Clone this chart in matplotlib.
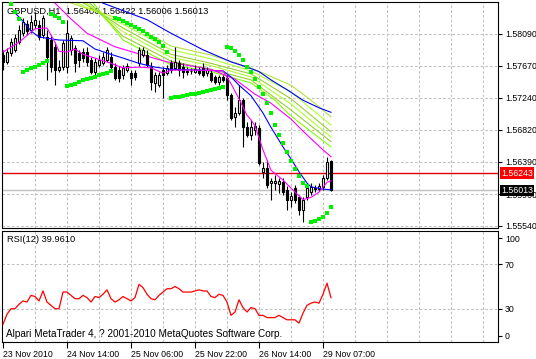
import numpy as np
import matplotlib
matplotlib.use("Agg")
import matplotlib.pyplot as plt

# GBPUSD H1 candles (bar 0 = 23 Nov 2010 22:00)
opens = [1.5781, 1.5772, 1.5784, 1.5788, 1.5798, 1.5810, 1.5822, 1.5814, 1.5821, 1.5821,
         1.5808, 1.5805, 1.5801, 1.5792, 1.5761, 1.5765, 1.5765, 1.5788, 1.5790, 1.5784,
         1.5785, 1.5785, 1.5775, 1.5759, 1.5768, 1.5770, 1.5775, 1.5778, 1.5765, 1.5761,
         1.5755, 1.5761, 1.5757, 1.5757, 1.5770, 1.5781, 1.5781, 1.5765, 1.5744, 1.5741,
         1.5761, 1.5757, 1.5770, 1.5764, 1.5770, 1.5765, 1.5760, 1.5760, 1.5759, 1.5761,
         1.5764, 1.5757, 1.5757, 1.5752, 1.5745, 1.5752, 1.5751, 1.5728, 1.5699, 1.5704,
         1.5721, 1.5685, 1.5675, 1.5682, 1.5684, 1.5626, 1.5631, 1.5611, 1.5611, 1.5610,
         1.5612, 1.5602, 1.5589, 1.5604, 1.5592, 1.5575, 1.5592, 1.5599, 1.5603, 1.5603,
         1.5606, 1.5618, 1.56406]
highs = [1.5788, 1.5790, 1.5804, 1.5809, 1.5821, 1.5830, 1.5828, 1.5834, 1.5838, 1.5828,
         1.5834, 1.5814, 1.5808, 1.5798, 1.5775, 1.5801, 1.5828, 1.5808, 1.5794, 1.5788,
         1.5790, 1.5792, 1.5778, 1.5777, 1.5781, 1.5785, 1.5792, 1.5785, 1.5770, 1.5767,
         1.5768, 1.5770, 1.5761, 1.5761, 1.5792, 1.5792, 1.5788, 1.5772, 1.5759, 1.5759,
         1.5765, 1.5768, 1.5775, 1.5792, 1.5775, 1.5770, 1.5765, 1.5764, 1.5768, 1.5765,
         1.5770, 1.5765, 1.5761, 1.5755, 1.5755, 1.5755, 1.5755, 1.5731, 1.5712, 1.5741,
         1.5724, 1.5692, 1.5695, 1.5692, 1.5688, 1.5639, 1.5642, 1.5618, 1.5622, 1.5618,
         1.5618, 1.5607, 1.5599, 1.5608, 1.5595, 1.5592, 1.5608, 1.5611, 1.5608, 1.5611,
         1.5622, 1.5646, 1.56422]
lows = [1.5761, 1.5769, 1.5780, 1.5785, 1.5796, 1.5806, 1.5808, 1.5810, 1.5817, 1.5801,
        1.5804, 1.5748, 1.5759, 1.5741, 1.5759, 1.5761, 1.5757, 1.5781, 1.5759, 1.5765,
        1.5772, 1.5767, 1.5756, 1.5755, 1.5765, 1.5768, 1.5772, 1.5761, 1.5748, 1.5745,
        1.5749, 1.5759, 1.5741, 1.5748, 1.5767, 1.5778, 1.5765, 1.5735, 1.5732, 1.5739,
        1.5724, 1.5755, 1.5757, 1.5761, 1.5753, 1.5751, 1.5755, 1.5756, 1.5757, 1.5755,
        1.5752, 1.5753, 1.5745, 1.5743, 1.5741, 1.5745, 1.5721, 1.5695, 1.5685, 1.5701,
        1.5659, 1.5672, 1.5668, 1.5675, 1.5635, 1.5618, 1.5604, 1.5589, 1.5602, 1.5598,
        1.5595, 1.5575, 1.5579, 1.5585, 1.5569, 1.5559, 1.5589, 1.5595, 1.5599, 1.5600,
        1.5602, 1.5615, 1.56006]
closes = [1.5772, 1.5785, 1.5798, 1.5804, 1.5814, 1.5825, 1.5813, 1.5825, 1.5828, 1.5805,
          1.5830, 1.5778, 1.5765, 1.5761, 1.5765, 1.5797, 1.5810, 1.5804, 1.5770, 1.5775,
          1.5777, 1.5772, 1.5759, 1.5772, 1.5775, 1.5778, 1.5788, 1.5765, 1.5751, 1.5751,
          1.5764, 1.5767, 1.5751, 1.5752, 1.5788, 1.5788, 1.5768, 1.5745, 1.5755, 1.5755,
          1.5755, 1.5764, 1.5761, 1.5772, 1.5761, 1.5759, 1.5759, 1.5760, 1.5762, 1.5757,
          1.5755, 1.5761, 1.5748, 1.5745, 1.5752, 1.5748, 1.5728, 1.5697, 1.5704, 1.5721,
          1.5685, 1.5675, 1.5685, 1.5687, 1.5638, 1.5631, 1.5608, 1.5614, 1.5614, 1.5614,
          1.5599, 1.5589, 1.5594, 1.5589, 1.5575, 1.5589, 1.5604, 1.5606, 1.5604, 1.5607,
          1.5618, 1.5639, 1.56013]

nan = np.nan
sar = [nan, nan, 1.5849, 1.5838, 1.5829,
       1.5759, 1.5761, 1.5764, 1.5765, 1.5768, 1.5770, 1.5773,
       1.5836, 1.5833, 1.5830, 1.5825,
       1.5740, 1.5741, 1.5743, 1.5745, 1.5748, 1.5749, 1.5751, 1.5752, 1.5755, 1.5756,
       1.5757, 1.5760,
       1.5830, 1.5829, 1.5826, 1.5824, 1.5821, 1.5818, 1.5816, 1.5813, 1.5809, 1.5805,
       1.5802, 1.5798, 1.5793, 1.5785,
       1.5724, 1.5725, 1.5725, 1.5727, 1.5728, 1.5729, 1.5729, 1.5731, 1.5732, 1.5733,
       1.5735, 1.5736, 1.5737, 1.5739,
       1.5792, 1.5790, 1.5786, 1.5781, 1.5775, 1.5765, 1.5759, 1.5749, 1.5739, 1.5729,
       1.5717, 1.5704, 1.5688, 1.5675, 1.5664, 1.5652, 1.5640, 1.5630, 1.5620, 1.5611,
       1.5607,
       1.5559, 1.5561, 1.5563, 1.5566, 1.5571, 1.5579]

rsi = [16, 25, 30, 30, 34, 37, 36, 42, 41, 37,
       46, 36, 33, 30, 30, 45, 45, 42, 39, 39,
       42, 40, 36, 41, 40, 43, 47, 39, 36, 38,
       41, 39, 37, 40, 52, 49, 43, 39, 38, 42,
       45, 48, 48, 50, 48, 45, 45, 45, 46, 47,
       46, 46, 41, 40, 43, 42, 36, 24, 27, 38,
       31, 27, 31, 30, 24, 24, 22, 22, 22, 24,
       22, 20, 20, 20, 17, 26, 33, 35, 36, 35,
       43, 53, 39.961]

# moving averages, read at a few bars each
blue_fast_idx = [3, 5, 7, 9, 14, 20, 23, 27, 30, 34, 38, 42, 49, 55, 57, 59, 62, 65, 67, 70, 72, 74, 76, 77, 80, 82]
blue_fast = [1.5837, 1.5826, 1.5813, 1.5805, 1.5801, 1.5800, 1.5789, 1.5782, 1.5777, 1.5770,
             1.5765, 1.5762, 1.5761, 1.5760, 1.5752, 1.5741, 1.5727, 1.5704, 1.5685, 1.5659,
             1.5643, 1.5626, 1.5611, 1.5606, 1.5603, 1.5602]
blue_slow_idx = [24, 25, 31, 36, 42, 50, 57, 61, 64, 67, 71, 75, 79, 82]
blue_slow = [1.5854, 1.5850, 1.5838, 1.5828, 1.5810, 1.5788, 1.5772, 1.5765, 1.5759, 1.5748,
             1.5735, 1.5721, 1.5711, 1.5705]
magenta_fast_idx = [0, 4, 8, 11, 13, 14, 16, 18, 20, 23, 27, 30, 34, 37, 40, 42, 49, 55, 57,
                    59, 61, 62, 63, 65, 67, 70, 73, 75, 77, 79, 81, 82]
magenta_fast = [1.5785, 1.5798, 1.5816, 1.5817, 1.5798, 1.5786, 1.5785, 1.5789, 1.5782, 1.5777,
                1.5770, 1.5764, 1.5765, 1.5764, 1.5757, 1.5761, 1.5761, 1.5760, 1.5743, 1.5723,
                1.5701, 1.5695, 1.5687, 1.5655, 1.5628, 1.5615, 1.5599, 1.5589, 1.5592, 1.5599,
                1.5612, 1.5614]
magenta_slow_idx = [13, 17, 21, 28, 37, 41, 52, 58, 63, 67, 72, 75, 80, 82]
magenta_slow = [1.5850, 1.5829, 1.5810, 1.5792, 1.5778, 1.5772, 1.5762, 1.5749, 1.5729, 1.5717,
                1.5696, 1.5680, 1.5655, 1.5646]
green_idx = [
    [15, 22, 30, 42, 52, 62, 72, 77, 82],
    [17, 30, 42, 52, 62, 72, 82],
    [19, 30, 42, 52, 62, 72, 82],
    [20, 30, 42, 52, 62, 72, 82],
    [21, 30, 42, 52, 62, 72, 82],
    [22, 30, 42, 52, 62, 68, 72, 82],
]
green_vals = [
    [1.5854, 1.5841, 1.5828, 1.5793, 1.5781, 1.5764, 1.5741, 1.5721, 1.5699],
    [1.5854, 1.5822, 1.5788, 1.5776, 1.5760, 1.5732, 1.5688],
    [1.5854, 1.5817, 1.5782, 1.5770, 1.5756, 1.5723, 1.5679],
    [1.5854, 1.5812, 1.5778, 1.5767, 1.5752, 1.5716, 1.5672],
    [1.5854, 1.5806, 1.5773, 1.5762, 1.5748, 1.5708, 1.5666],
    [1.5854, 1.5801, 1.5768, 1.5759, 1.5744, 1.5721, 1.5700, 1.5659],
]
green_colors = ["#B4E23C", "#ADFF2F", "#9ACD32", "#ADFF2F", "#9ACD32", "#7FFF00"]

price_ticks = [1.58090, 1.57670, 1.57240, 1.56820, 1.56390, 1.55960, 1.55540]
marker_line = 1.56243
time_ticks = [0, 16, 32, 48, 64, 80]
time_labels = ["23 Nov 2010", "24 Nov 14:00", "25 Nov 06:00", "25 Nov 22:00",
               "26 Nov 14:00", "29 Nov 07:00"]

W, H = 536, 359
FONT = 6.3
GRID = dict(color="#C0C0C0", linewidth=0.75, linestyle=(0, (2.5, 2.0)), zorder=0)
plt.rcParams["font.family"] = ["Liberation Sans", "DejaVu Sans"]

fig = plt.figure(figsize=(W / 100, H / 100), dpi=100)


def px_axes(left, top, right, bottom):
    return fig.add_axes([left / W, 1 - bottom / H, (right - left) / W, (bottom - top) / H])


def frame(a):
    for s in a.spines.values():
        s.set_linewidth(0.8)
        s.set_color("black")


ax = px_axes(2, 2, 498, 228)
rx = px_axes(2, 231, 498, 342)
bars = np.arange(len(closes))

# main price panel
for x in range(8, 124, 8):
    ax.axvline(x, **GRID)
for p in price_ticks:
    ax.axhline(p, **GRID)
ax.axhline(marker_line, color="#E00000", linewidth=1.0, zorder=1)
ax.axhline(closes[-1], color="#C0C0C0", linewidth=1.0, zorder=1)

for idx, vals, col in zip(green_idx, green_vals, green_colors):
    ax.plot(idx, vals, color=col, linewidth=0.8, zorder=2)
ax.plot(blue_slow_idx, blue_slow, color="#0000FF", linewidth=0.8, zorder=2)
ax.plot(magenta_slow_idx, magenta_slow, color="#FF00FF", linewidth=0.8, zorder=2)

o = np.array(opens)
c = np.array(closes)
ax.vlines(bars, lows, highs, color="black", linewidth=0.8, zorder=3)
bull = c >= o
ax.bar(bars, np.abs(c - o), bottom=np.minimum(o, c), width=0.5,
       color=np.where(bull, "white", "black"), edgecolor="black", linewidth=0.8, zorder=4)

ax.plot(blue_fast_idx, blue_fast, color="#0000FF", linewidth=0.8, zorder=5)
ax.plot(magenta_fast_idx, magenta_fast, color="#FF00FF", linewidth=0.8, zorder=5)
ax.plot(bars, sar, linestyle="none", marker="s", markersize=3.0, color="#00F000",
        markeredgewidth=0, zorder=6)

ax.set_xlim(-0.25, 123.75)
ax.set_ylim(1.55513, 1.58515)
ax.set_xticks([])
ax.yaxis.tick_right()
ax.set_yticks(price_ticks, [f"{p:.5f}" for p in price_ticks])
ax.tick_params(axis="y", length=3, width=0.8, pad=2, labelsize=FONT)
frame(ax)

box = dict(boxstyle="square,pad=0.15", linewidth=0)
ax.text(1.006, marker_line, f"{marker_line:.5f}", transform=ax.get_yaxis_transform(),
        color="white", fontsize=FONT, va="center", ha="left", zorder=10,
        bbox=dict(box, facecolor="#FF0000"), clip_on=False)
ax.text(1.006, closes[-1], f"{closes[-1]:.5f}", transform=ax.get_yaxis_transform(),
        color="white", fontsize=FONT, va="center", ha="left", zorder=10,
        bbox=dict(box, facecolor="black"), clip_on=False)
ax.text(5 / 496, 1 - 9 / 226,
        f"GBPUSD,H1  {opens[-1]:.5f} {highs[-1]:.5f} {lows[-1]:.5f} {closes[-1]:.5f}",
        transform=ax.transAxes, fontsize=FONT + 0.4, va="center", ha="left", zorder=1)

# RSI panel
for x in range(8, 124, 8):
    rx.axvline(x, **GRID)
for lvl in (70, 30):
    rx.axhline(lvl, **GRID)
rx.plot(bars, rsi, color="#FF0000", linewidth=0.9, zorder=3)
rx.set_xlim(-0.25, 123.75)
rx.set_ylim(0, 100)
rx.yaxis.tick_right()
rx.set_yticks([93.6, 70, 30, 5.5], ["100", "70", "30", "0"])
rx.tick_params(axis="y", length=3, width=0.8, pad=2, labelsize=FONT)
rx.set_xticks(time_ticks, time_labels)
rx.tick_params(axis="x", length=4, width=0.8, pad=1.5, labelsize=FONT)
for lab in rx.get_xticklabels():
    lab.set_horizontalalignment("left")
frame(rx)
rx.text(5 / 496, 1 - 9 / 111, f"RSI(12) {rsi[-1]:.4f}", transform=rx.transAxes,
        fontsize=FONT + 0.4, va="center", ha="left")
rx.text(4 / 496, 8 / 111, "Alpari MetaTrader 4, ? 2001-2010 MetaQuotes Software Corp.",
        transform=rx.transAxes, fontsize=7.2, va="center", ha="left", zorder=4)

fig.savefig("out.png", dpi=100, facecolor="white")
